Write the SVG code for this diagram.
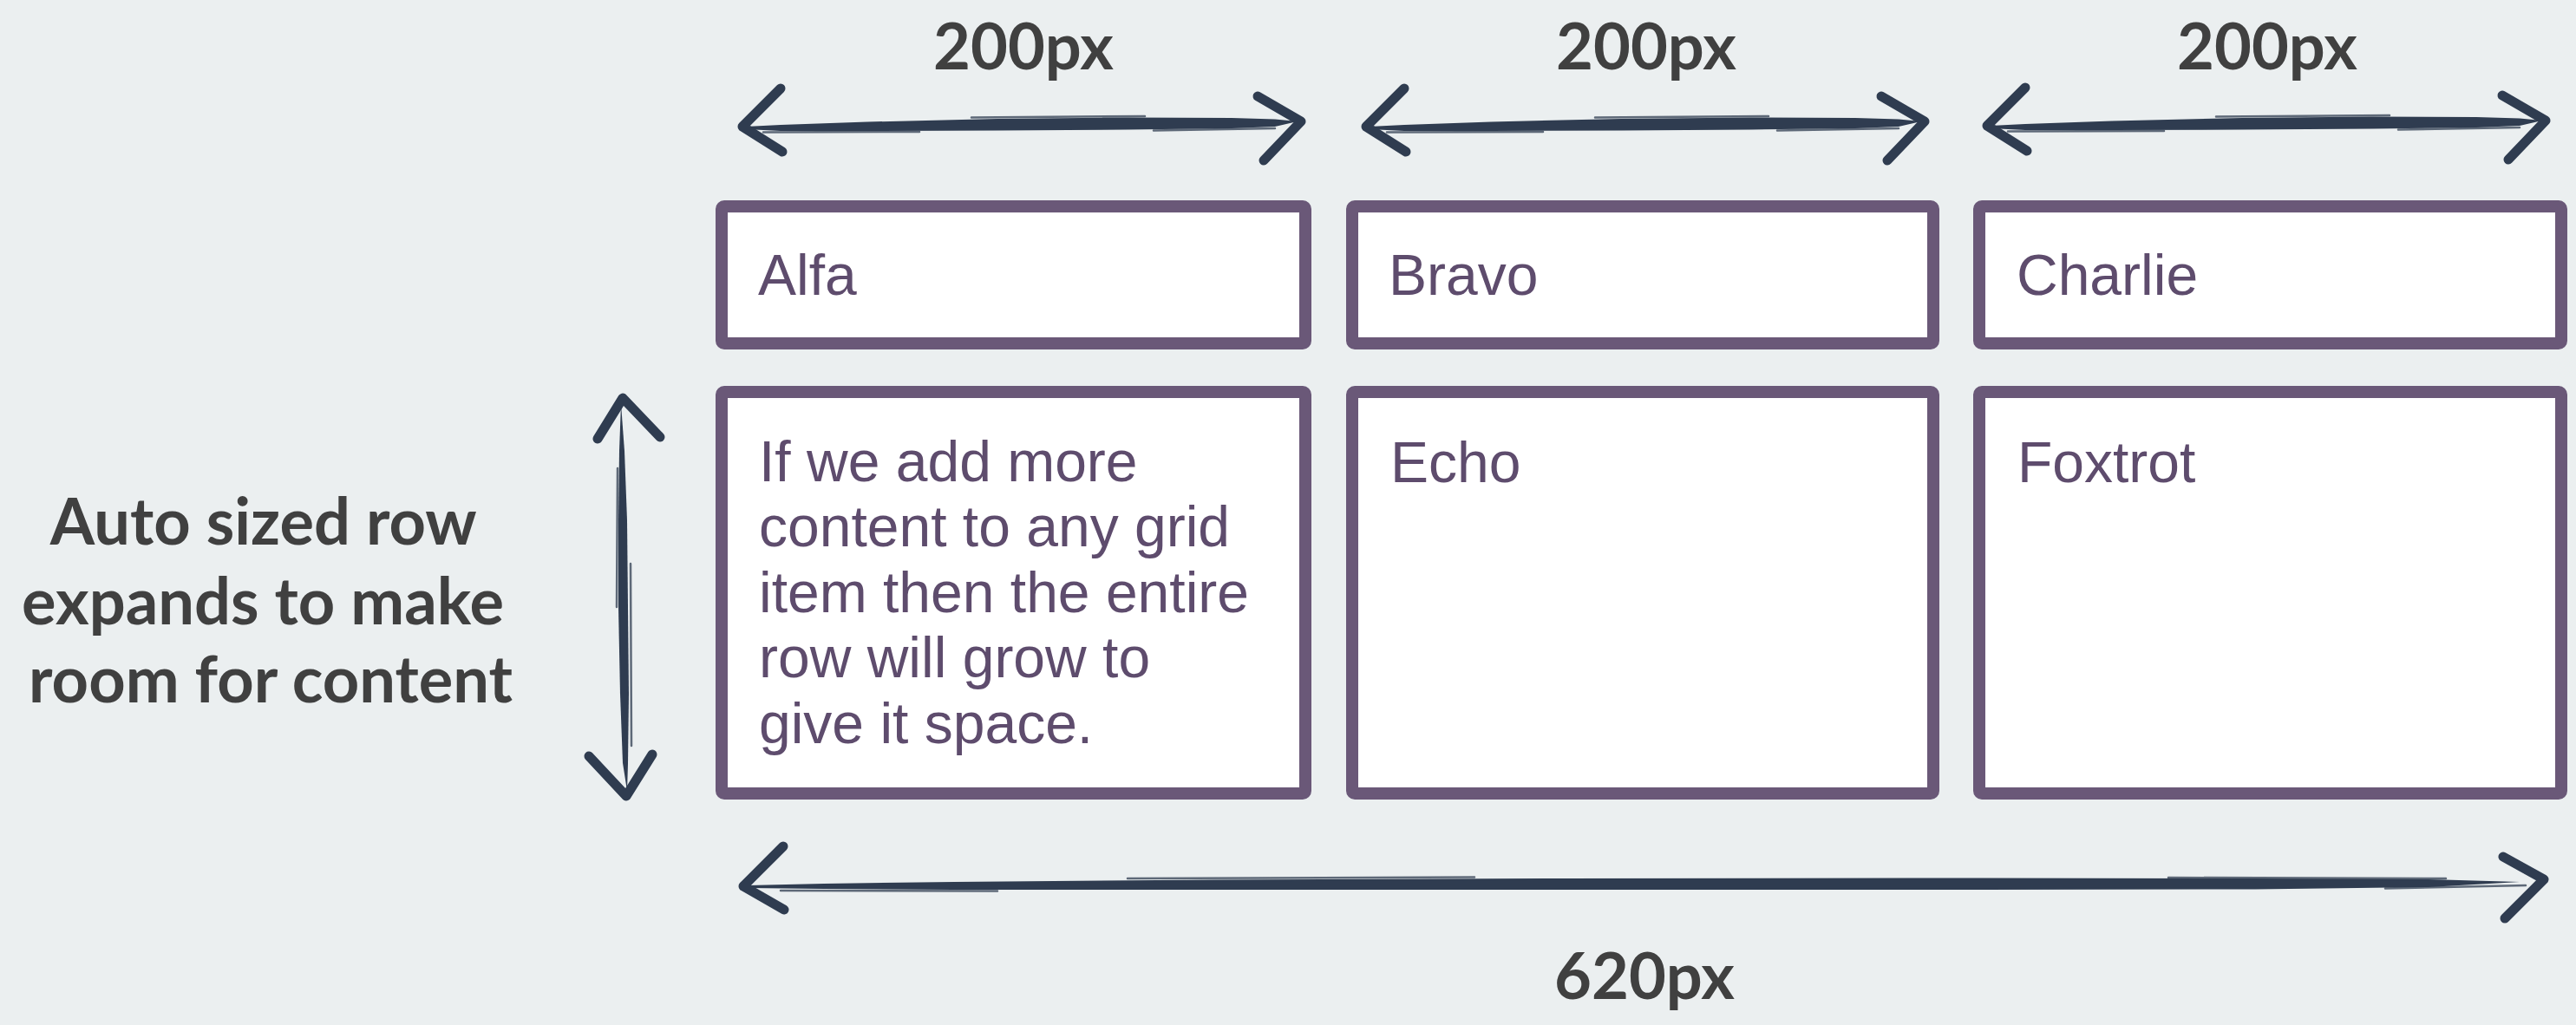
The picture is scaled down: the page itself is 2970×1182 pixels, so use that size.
<svg xmlns="http://www.w3.org/2000/svg" width="2970" height="1182" viewBox="0 0 2970 1182">
  <style>
    .bg { fill: #ebeff0; }
    .box { fill: #ffffff; stroke: #6a5878; stroke-width: 14; }
    .item { font-family: "Liberation Sans", Arial, sans-serif; font-size: 66px; fill: #5e4c6d; }
    .label { font-family: Lato, "Liberation Sans", sans-serif; font-weight: 700; font-size: 74px; fill: #404040; }
    .shaft { fill: #2f3c50; }
    .head { fill: none; stroke: #2f3c50; stroke-width: 11; stroke-linecap: round; stroke-linejoin: round; }
    .hair { fill: none; stroke: #2f3c50; stroke-width: 2.5; stroke-linecap: round; opacity: 0.75; }
  </style>
  <defs>
    <g id="hArrowTop">
      <polygon class="shaft" points="860,146 900,144 1000,140.5 1150,137 1300,135.5 1420,136 1470,137.5 1496,140 1470,146 1420,148 1300,149.5 1150,150.5 1000,151 900,151 860,149"/>
      <path class="hair" d="M880,152.5 L1060,152 M1120,135.5 L1320,134 M1330,150.5 L1470,148"/>
      <path class="head" d="M900,102 L856,146 L902,175"/>
      <path class="head" d="M1450,111 L1500,140 L1457,185"/>
    </g>
  </defs>
  <rect class="bg" x="0" y="0" width="2970" height="1182"/>

  <g id="labels">
    <text class="label" x="1180" y="80" text-anchor="middle">200px</text>
    <text class="label" x="1898" y="80" text-anchor="middle">200px</text>
    <text class="label" x="2614" y="80" text-anchor="middle">200px</text>
    <text class="label" x="1896" y="1152" text-anchor="middle">620px</text>
    <text class="label" text-anchor="middle">
      <tspan x="312" y="628">Auto sized row</tspan>
      <tspan x="312" y="720">expands to make</tspan>
      <tspan x="312" y="810">room for content</tspan>
    </text>
  </g>

  <g id="node-alfa">
    <rect class="box" x="832" y="238" width="673" height="158" rx="3"/>
    <text class="item" x="874" y="340">Alfa</text>
  </g>
  <g id="node-bravo">
    <rect class="box" x="1559" y="238" width="670" height="158" rx="3"/>
    <text class="item" x="1601" y="340">Bravo</text>
  </g>
  <g id="node-charlie">
    <rect class="box" x="2282" y="238" width="671" height="158" rx="3"/>
    <text class="item" x="2325" y="340">Charlie</text>
  </g>
  <g id="node-delta">
    <rect class="box" x="832" y="452" width="673" height="463" rx="3"/>
    <text class="item">
      <tspan x="875" y="555">If we add more</tspan>
      <tspan x="875" y="630">content to any grid</tspan>
      <tspan x="875" y="706">item then the entire</tspan>
      <tspan x="875" y="781">row will grow to</tspan>
      <tspan x="875" y="857">give it space.</tspan>
    </text>
  </g>
  <g id="node-echo">
    <rect class="box" x="1559" y="452" width="670" height="463" rx="3"/>
    <text class="item" x="1603" y="556">Echo</text>
  </g>
  <g id="node-foxtrot">
    <rect class="box" x="2282" y="452" width="671" height="463" rx="3"/>
    <text class="item" x="2326" y="556">Foxtrot</text>
  </g>

  <g id="connectors">
    <use href="#hArrowTop"/>
    <use href="#hArrowTop" transform="translate(719,0)"/>
    <use href="#hArrowTop" transform="translate(1435,-1)"/>

    <!-- bottom 620px arrow -->
    <polygon class="shaft" points="862,1021 950,1019 1100,1017 1400,1014.5 1800,1013 2200,1012.5 2600,1013 2800,1014 2905,1017 2800,1023 2600,1025.5 2200,1026 1800,1026 1400,1026 1100,1026 950,1025 862,1024"/>
    <path class="hair" d="M900,1027 L1150,1027.5 M1300,1013 L1700,1011.5 M2500,1012 L2820,1013 M2750,1024.5 L2912,1021"/>
    <path class="head" d="M903,976 L857,1022 L904,1049"/>
    <path class="head" d="M2886,988 L2933,1014 L2888,1059"/>

    <!-- vertical row arrow -->
    <polygon class="shaft" points="716,466 720,520 723,600 724,700 725,800 724,880 723,912 718,880 715,800 713,700 713,600 714,520"/>
    <path class="hair" d="M712,540 L711,700 M727,650 L728,860"/>
    <path class="head" d="M689,506 L718,459 L761,504"/>
    <path class="head" d="M679,872 L722,918 L752,870"/>
  </g>
</svg>
